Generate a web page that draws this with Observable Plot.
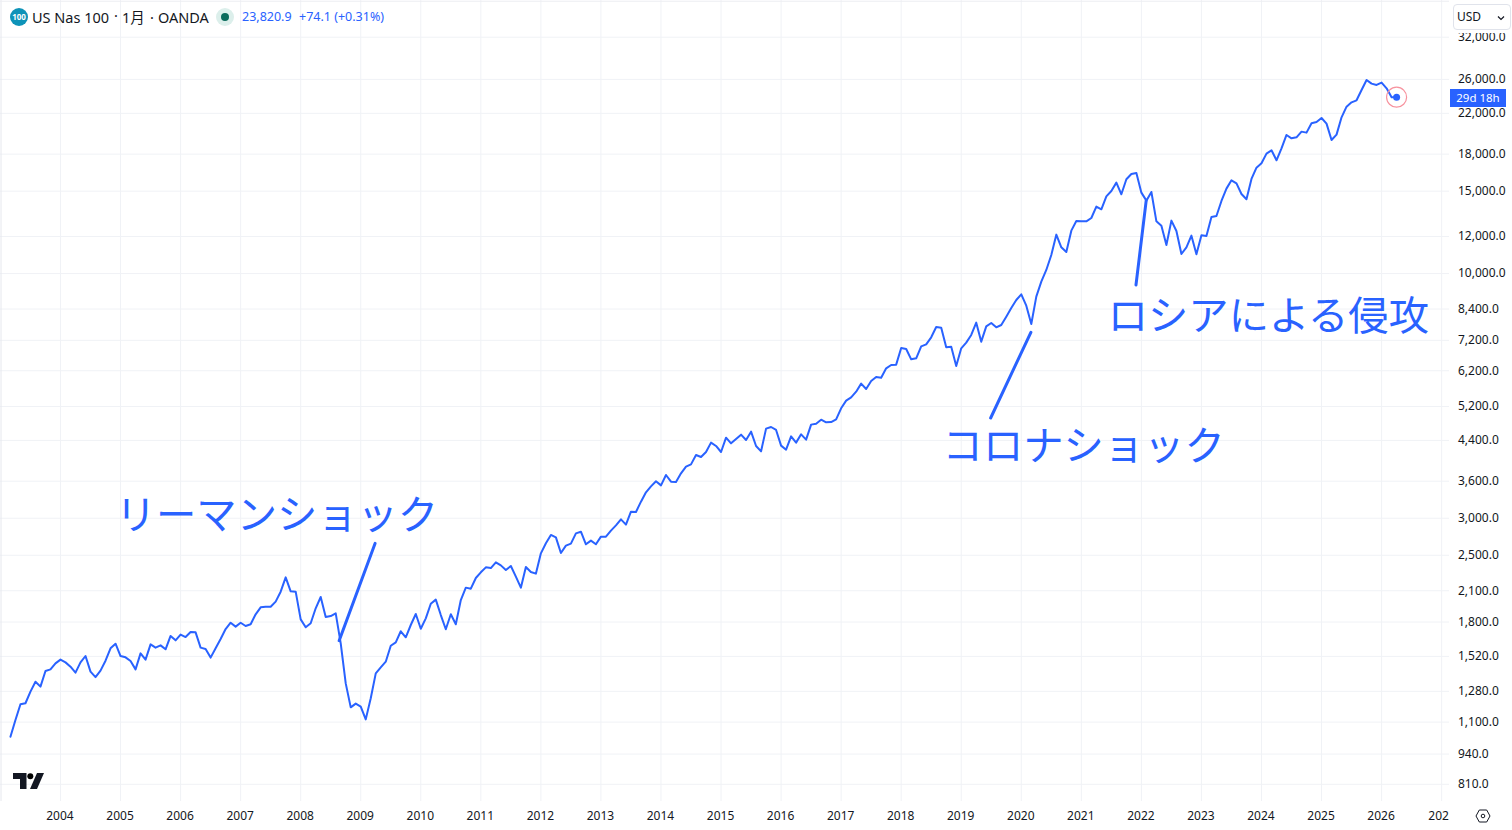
<!doctype html>
<html lang="ja"><head><meta charset="utf-8">
<script src="https://cdn.jsdelivr.net/npm/d3@7"></script>
<script src="https://cdn.jsdelivr.net/npm/@observablehq/plot@0.6"></script>
<style>
html,body{margin:0;padding:0;background:#fff;overflow:hidden}
#wrap{position:relative;width:1512px;height:830px;font-family:"Noto Sans",sans-serif}
#wrap svg{display:block}
.ov{position:absolute;white-space:nowrap}
</style></head><body><div id="wrap"></div>
<script>
// Monthly closes, each list starts in January except 2003 (March)
const c2003=[1024,1112,1201,1207,1278,1342,1310,1415,1426,1469];
const c2004=[1496,1476,1445,1403,1476,1523,1410,1373,1417,1488,1582,1618];
const c2005=[1523,1513,1486,1426,1543,1496,1613,1587,1605,1574,1681,1645];
const c2006=[1692,1672,1714,1711,1587,1576,1511,1582,1656,1739,1794,1760];
const c2007=[1794,1765,1780,1870,1935,1941,1941,1990,2090,2243,2094,2090];
const c2008=[1824,1754,1789,1926,2036,1845,1854,1879,1621,1331,1183,1205];
const c2009=[1187,1115,1237,1398,1440,1481,1602,1629,1720,1670,1774,1873];
const c2010=[1742,1833,1970,2010,1863,1737,1870,1780,2006,2132,2121,2236];
const c2011=[2299,2356,2348,2415,2379,2325,2372,2250,2132,2360,2303,2284];
const c2012=[2524,2652,2763,2731,2528,2621,2647,2785,2808,2639,2687,2639];
const c2013=[2740,2740,2822,2897,2984,2907,3099,3094,3255,3408,3510,3598];
const c2014=[3527,3711,3592,3586,3742,3867,3911,4095,4055,4156,4352,4281];
const c2015=[4156,4460,4337,4431,4526,4409,4594,4281,4170,4662,4700,4632];
const c2016=[4288,4204,4489,4352,4534,4416,4755,4778,4873,4810,4817,4881];
const c2017=[5153,5351,5439,5593,5818,5667,5895,6012,5992,6274,6377,6388];
const c2018=[6934,6900,6558,6590,6991,7060,7308,7689,7664,6957,6980,6346];
const c2019=[6923,7118,7392,7855,7153,7714,7842,7676,7765,8090,8442,8781];
const c2020=[9030,8540,7803,8927,9611,10179,10958,12112,11380,11121,12352,12954];
const c2021=[12933,12933,13147,13901,13720,14626,15015,15644,14771,15903,16325,16406];
const c2022=[14893,14318,14941,12933,12660,11511,12976,12332,11012,11380,12052,10994];
const c2023=[12072,12032,13212,13277,14294,15189,15824,15593,14795,14412,15929,16842];
const c2024=[17205,18044,18342,17461,18523,19780,19458,19554,20107,20008,20949,21086];
const c2025=[21506,20914,19299,19812,21576,22739,23229,23459,24683,25928,25464,25298];
const c2026=[25590,24886,23808,23820.9];
const closeLists=[c2003,c2004,c2005,c2006,c2007,c2008,c2009,c2010,c2011,c2012,c2013,c2014,c2015,c2016,c2017,c2018,c2019,c2020,c2021,c2022,c2023,c2024,c2025,c2026];

const yearTicks=[2004,2005,2006,2007,2008,2009,2010,2011,2012,2013,2014,2015,2016,2017,2018,2019,2020,2021,2022,2023,2024,2025,2026];
const clippedYear=[2027];
const priceTicks=[810,940,1100,1280,1520,1800,2100,2500,3000,3600,4400,5200,6200,7200,8400,10000,12000,15000,18000,22000,26000,32000];

const callouts=[
 {id:"lehman",x:[2008.64,2009.24],y:[1642,2652]},
 {id:"covid",x:[2019.49,2020.16],y:[4913,7491]},
 {id:"russia",x:[2021.91,2022.08],y:[9454,14315]}
];
const labels=[
 {x:2004.92,y:3030,text:"リーマンショック"},
 {x:2018.69,y:4265,text:"コロナショック"},
 {x:2021.44,y:8085,text:"ロシアによる侵攻"}
];

const series=closeLists.flatMap((list,i)=>list.map((close,j)=>({
  t:2003+i+(i===0?j+2:j)/12, close})));
const last=series[series.length-1];
const blue="#2962ff", grid="#f0f2f6", txt="#131722";
const priceFormat=d3.format(",.1f");

const chart=Plot.plot({
  width:1512,height:830,marginLeft:0,marginTop:0,marginBottom:29,marginRight:63,
  style:{background:"#fff",fontFamily:'"Noto Sans",sans-serif',fontSize:"12px",color:txt},
  x:{type:"linear",domain:[2003.001,2027.131],axis:null},
  y:{type:"log",domain:[744.3,38336],axis:null},
  marks:[
    Plot.gridX(yearTicks,{stroke:grid,strokeOpacity:1}),
    Plot.gridX(clippedYear,{stroke:grid,strokeOpacity:1}),
    Plot.gridY(priceTicks,{stroke:grid,strokeOpacity:1}),
    Plot.ruleX([2003.01],{stroke:"#e6e8ee"}),
    Plot.ruleY([38200],{stroke:"#eceef2"}),
    Plot.text(yearTicks,{x:d=>d,frameAnchor:"bottom",dy:15,dx:-0.5,text:d=>String(d),fill:txt,fontSize:12,lineAnchor:"middle"}),
    Plot.text(clippedYear,{x:d=>d,frameAnchor:"bottom",dy:15,dx:-3,text:()=>"202",fill:txt,fontSize:12,lineAnchor:"middle"}),
    Plot.text(priceTicks,{y:d=>d,frameAnchor:"right",dx:8.5,dy:0,textAnchor:"start",text:d=>priceFormat(d),fill:txt,fontSize:12}),
    Plot.line(series,{x:"t",y:"close",stroke:blue,strokeWidth:2,curve:"linear"}),
    ...callouts.map(c=>Plot.line(c.x.map((x,i)=>({x,y:c.y[i]})),{x:"x",y:"y",stroke:blue,strokeWidth:3})),
    Plot.text(labels,{x:"x",y:"y",text:"text",fill:blue,fontSize:40.3,textAnchor:"start",fontFamily:'"Noto Sans CJK JP"',fontWeight:400}),
    Plot.dot([last],{x:"t",y:"close",r:3.5,fill:blue,stroke:"none"}),
    Plot.dot([last],{x:"t",y:"close",r:10,fill:"none",stroke:"#f7929e",strokeWidth:1.2})
  ]
});
const wrap=document.getElementById("wrap");
wrap.appendChild(chart);

function ov(html,style){const d=document.createElement("div");d.className="ov";d.style.cssText=style;d.innerHTML=html;wrap.appendChild(d);return d;}
// header
const hf='font:14.5px/20px "Noto Sans","Noto Sans CJK JP";color:#131722;top:7px;';
ov('100',"left:10px;top:8px;width:18px;height:18px;border-radius:50%;background:#0e93b8;color:#fff;font-size:8px;font-weight:700;line-height:18px;text-align:center");
ov('US Nas 100',hf+'left:32px');
ov('·',hf+'left:114px;top:5px');
ov('1月',hf+'left:122px');
ov('·',hf+'left:150px');
ov('OANDA',hf+'left:158px');
ov('',"left:216px;top:8px;width:18px;height:18px;border-radius:50%;background:#dcefeb");
ov('',"left:221px;top:13px;width:8px;height:8px;border-radius:50%;background:#0b6b5c");
ov('23,820.9',`left:242px;top:8px;font:12.5px/18px "Noto Sans";color:${blue}`);
ov('+74.1 (+0.31%)',`left:299px;top:8px;font:12.5px/18px "Noto Sans";color:${blue}`);
// currency box over the right-hand pane
ov('',"left:1450px;top:0;width:62px;height:33px;background:#fff");
ov('USD<span style="position:absolute;right:5px;top:4px"><svg width="8" height="8" viewBox="0 0 8 8" style="display:block;margin-top:5px"><path d="M1 2.5 4 5.5 7 2.5" fill="none" stroke="#131722" stroke-width="1.2"/></svg></span>',
   'left:1453px;top:4px;width:53px;height:24px;border:1px solid #e0e3eb;border-radius:4px;background:#fff;font:12px/24px "Noto Sans";color:#131722;padding-left:3px');
// countdown
ov('29d 18h',`left:1450px;top:89px;width:56px;height:18px;background:${blue};color:#fff;font:11.5px/18px "Noto Sans";text-align:center`);
// logo and settings
ov('<svg width="31" height="16" viewBox="0 0 31 16"><path fill="#131722" d="M0 0h13.5v16H7V6H0z"/><circle cx="17.3" cy="3.2" r="3"/><path fill="#131722" d="M24 0h7l-7 16h-7z"/></svg>',"left:12.5px;top:772.5px;line-height:0");
ov('<svg width="16" height="14" viewBox="0 0 16 14"><path d="M4.3 1h7.4L15 7l-3.3 6H4.3L1 7z" fill="none" stroke="#131722"/><circle cx="8" cy="7" r="1.8" fill="none" stroke="#131722"/></svg>',"left:1475px;top:809px;line-height:0");
</script></body></html>
